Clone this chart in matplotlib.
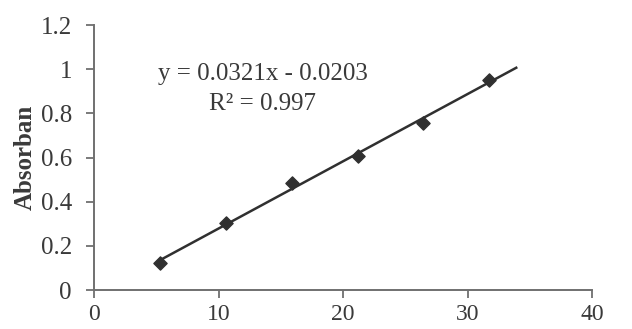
import numpy as np
import matplotlib
matplotlib.use("Agg")
import matplotlib.pyplot as plt

# Data
conc = [5.3, 10.6, 15.9, 21.2, 26.4, 31.7]
absorb = [0.124, 0.302, 0.486, 0.607, 0.758, 0.951]
x_ticks = [0, 10, 20, 30, 40]
y_ticks = [0, 0.2, 0.4, 0.6, 0.8, 1.0, 1.2]
y_tick_labels = ["0", "0.2", "0.4", "0.6", "0.8", "1", "1.2"]
trend_end = 33.9
equation = "y = 0.0321x - 0.0203"
r2_text = "R² = 0.997"

plt.rcParams['font.family'] = ['Liberation Serif', 'DejaVu Serif']
txt = '#3a3a3a'

fig = plt.figure(figsize=(6.32, 3.29), dpi=100)
ax = fig.add_axes([0.149, 0.1185, 0.788, 0.8055])

x = np.array(conc)
y = np.array(absorb)
m, b = np.polyfit(x, y, 1)
xl = np.array([x[0], trend_end])
ax.plot(xl, m * xl + b, color='#303030', lw=1.8, zorder=2)
ax.scatter(x, y, marker='D', s=45, color='#303030', zorder=3)

ax.set_xlim(0, 40)
ax.set_ylim(0, 1.2)
ax.set_xticks(x_ticks)
ax.set_yticks(y_ticks)
ax.set_yticklabels(y_tick_labels)
for s in ['top', 'right']:
    ax.spines[s].set_visible(False)
for s in ['left', 'bottom']:
    ax.spines[s].set_color('#707070')
    ax.spines[s].set_linewidth(1.4)
ax.tick_params(axis='both', direction='out', length=6, width=1.3, color='#707070',
               labelsize=18, labelcolor=txt)
ax.tick_params(axis='x', labelsize=17, pad=4)
ax.tick_params(axis='y', pad=10)

ax.set_ylabel("Absorban", fontsize=18, fontweight='bold', color=txt, labelpad=3)

ax.text(0.339, 0.815, equation, transform=ax.transAxes, ha='center', va='center',
        fontsize=18, color=txt)
ax.text(0.339, 0.703, r2_text, transform=ax.transAxes, ha='center', va='center',
        fontsize=18, color=txt)

fig.savefig("out.png", dpi=100)
